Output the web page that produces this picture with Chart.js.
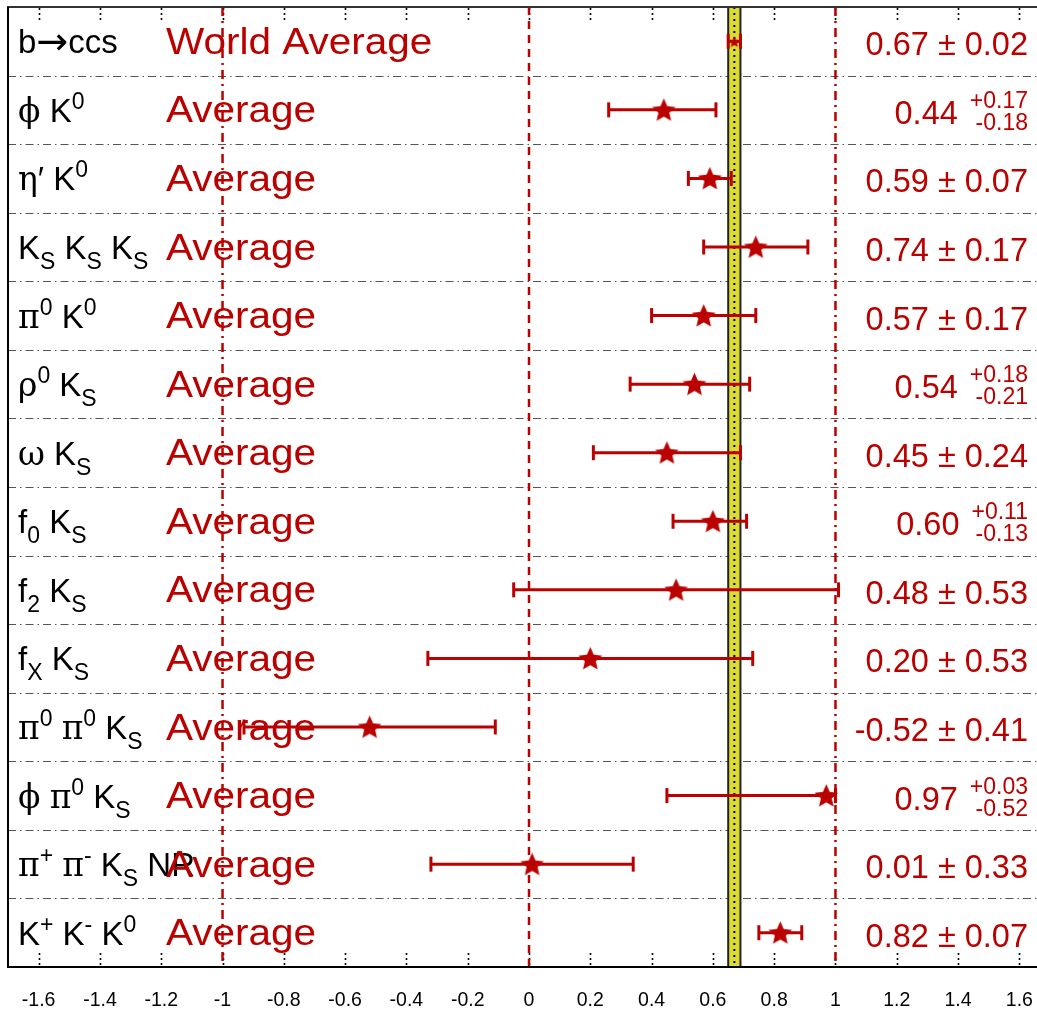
<!DOCTYPE html>
<html><head><meta charset="utf-8">
<script src="https://cdn.jsdelivr.net/npm/chart.js@4/dist/chart.umd.min.js"></script>
<style>
html,body{margin:0;padding:0;background:#fff;overflow:hidden;width:1037px;height:1009px}
#wrap{position:absolute;left:0;top:0;width:1052px;height:1009px}
</style>
</head><body><div id="wrap"><canvas id="c" width="1052" height="1009"></canvas></div>
<script>
// ---- data ----
const categories = ['b→ccs','ϕ K^{0}','η′ K^{0}','K_{S} K_{S} K_{S}','π^{0} K^{0}','ρ^{0} K_{S}','ω K_{S}','f_{0} K_{S}','f_{2} K_{S}','f_{X} K_{S}','π^{0} π^{0} K_{S}','ϕ π^{0} K_{S}','π^{+} π^{-} K_{S} NR','K^{+} K^{-} K^{0}'];
const averageLabels = ['World Average','Average','Average','Average','Average','Average','Average','Average','Average','Average','Average','Average','Average','Average'];
const values   = [0.67, 0.44, 0.59, 0.74, 0.57, 0.54, 0.45, 0.60, 0.48, 0.20, -0.52, 0.97, 0.01, 0.82];
const errPlus  = [0.02, 0.17, 0.07, 0.17, 0.17, 0.18, 0.24, 0.11, 0.53, 0.53, 0.41, 0.03, 0.33, 0.07];
const errMinus = [0.02, 0.18, 0.07, 0.17, 0.17, 0.21, 0.24, 0.13, 0.53, 0.53, 0.41, 0.52, 0.33, 0.07];
const xTicks = [-1.6,-1.4,-1.2,-1,-0.8,-0.6,-0.4,-0.2,0,0.2,0.4,0.6,0.8,1,1.2,1.4,1.6];
const refLines = [-1, 0, 1];
const worldAverage = 0.67;
const worldError = 0.02;

// ---- styles ----
const RED = '#bb0000';
const SANS = '"Liberation Sans", Arial, "DejaVu Sans", sans-serif';
const SERIF = '"DejaVu Serif", "Liberation Serif", serif';
const GREEK = /[α-ωΑ-Ωϕ]/;

function makeStar(r, color) {
  const c = document.createElement('canvas');
  const s = Math.ceil(2 * r + 2);
  c.width = s; c.height = s;
  const g = c.getContext('2d');
  g.fillStyle = color;
  g.beginPath();
  for (let k = 0; k < 10; k++) {
    const rad = (k % 2 === 0) ? r : r * 0.46;
    const a = -Math.PI / 2 + k * Math.PI / 5;
    const px = s / 2 + rad * Math.cos(a), py = s / 2 + 1 + rad * Math.sin(a);
    if (k === 0) g.moveTo(px, py); else g.lineTo(px, py);
  }
  g.closePath(); g.fill();
  return c;
}
const bigStar = makeStar(12.5, RED);
const smallStar = makeStar(6, RED);

function parseMarkup(str) {
  const segs = [];
  let i = 0, buf = '';
  while (i < str.length) {
    const ch = str[i];
    if ((ch === '^' || ch === '_') && str[i + 1] === '{') {
      if (buf) { segs.push({t: buf, m: 'n'}); buf = ''; }
      const end = str.indexOf('}', i);
      segs.push({t: str.slice(i + 2, end), m: ch === '^' ? 'sup' : 'sub'});
      i = end + 1;
    } else { buf += ch; i++; }
  }
  if (buf) segs.push({t: buf, m: 'n'});
  return segs;
}

function drawRich(ctx, str, x, baseline, size, subSize) {
  const segs = parseMarkup(str);
  for (const s of segs) {
    let sz = size, dy = 0;
    if (s.m === 'sup') { sz = subSize; dy = -13; }
    if (s.m === 'sub') { sz = subSize; dy = 10; }
    for (const ch of s.t) {
      if (ch === '→') {
        ctx.font = Math.round(sz * 1.15) + 'px "DejaVu Sans", sans-serif';
        ctx.fillText(ch, x, baseline + dy + 1);
        x += ctx.measureText(ch).width;
        continue;
      }
      ctx.font = sz + 'px ' + (GREEK.test(ch) ? SERIF : SANS);
      ctx.fillText(ch, x, baseline + dy);
      x += ctx.measureText(ch).width;
    }
  }
  return x;
}

function hline(ctx, x1, x2, y, dash, color, w) {
  ctx.save(); ctx.beginPath(); ctx.setLineDash(dash); ctx.strokeStyle = color; ctx.lineWidth = w;
  ctx.moveTo(x1, y); ctx.lineTo(x2, y); ctx.stroke(); ctx.restore();
}
function vline(ctx, x, y1, y2, dash, color, w) {
  ctx.save(); ctx.beginPath(); ctx.setLineDash(dash); ctx.strokeStyle = color; ctx.lineWidth = w;
  ctx.moveTo(x, y1); ctx.lineTo(x, y2); ctx.stroke(); ctx.restore();
}

const hfagPlugin = {
  id: 'hfag',
  beforeDatasetsDraw(chart) {
    const ctx = chart.ctx;
    const {left, right, top, bottom} = chart.chartArea;
    const xs = chart.scales.x, ys = chart.scales.y;
    // row separators
    for (let k = 1; k < categories.length; k++) {
      const y = Math.round(ys.getPixelForValue(k)) + 0.5;
      hline(ctx, left, right, y, [8, 4, 1.5, 4], '#555', 1);
    }
    // tick marks (dotted)
    for (const v of xTicks) {
      const px = Math.round(xs.getPixelForValue(v)) + 0.5;
      vline(ctx, px, top + 1, top + 14, [2, 3], '#000', 1.6);
      vline(ctx, px, bottom - 14, bottom, [2, 3], '#000', 1.6);
    }
    // reference red lines
    for (const v of refLines) {
      const px = xs.getPixelForValue(v);
      const dash = v === 0 ? [8, 6] : [9, 5, 2, 5];
      vline(ctx, px, top, bottom, dash, RED, 2.5);
    }
    // world average band
    const bx1 = xs.getPixelForValue(worldAverage - worldError);
    const bx2 = xs.getPixelForValue(worldAverage + worldError);
    ctx.save();
    ctx.fillStyle = '#dcdc30';
    ctx.fillRect(bx1, top, bx2 - bx1, bottom - top);
    ctx.restore();
    vline(ctx, bx1, top, bottom, [], '#222', 2);
    vline(ctx, bx2, top, bottom, [], '#222', 2);
    vline(ctx, xs.getPixelForValue(worldAverage), top, bottom, [2, 4], '#000', 2);
    // frame
    hline(ctx, left - 1, right, top, [], '#333', 2);
    hline(ctx, left - 1, right, bottom, [], '#000', 2);
    vline(ctx, left, top, bottom, [], '#000', 2);
    // error bars
    for (let i = 0; i < values.length; i++) {
      const y = ys.getPixelForValue(i + 0.5);
      const x1 = xs.getPixelForValue(values[i] - errMinus[i]);
      const x2 = xs.getPixelForValue(values[i] + errPlus[i]);
      hline(ctx, x1, x2, y, [], RED, 3);
      vline(ctx, x1, y - 7.5, y + 7.5, [], RED, 3);
      vline(ctx, x2, y - 7.5, y + 7.5, [], RED, 3);
    }
  },
  afterDatasetsDraw(chart) {
    const ctx = chart.ctx;
    const ys = chart.scales.y;
    ctx.save();
    ctx.textBaseline = 'alphabetic';
    const textRight = 1028;
    for (let i = 0; i < categories.length; i++) {
      const yc = ys.getPixelForValue(i + 0.5);
      // left label
      ctx.fillStyle = '#000'; ctx.textAlign = 'left';
      drawRich(ctx, categories[i], 18, yc + 12, 33, 23);
      // average label (slightly wide lettering as in the original)
      ctx.fillStyle = RED;
      ctx.font = '37.5px ' + SANS;
      ctx.save();
      ctx.translate(166, yc + 12.5);
      ctx.scale(1.08, 1);
      ctx.fillText(averageLabels[i], 0, 0);
      ctx.restore();
      // value text
      ctx.textAlign = 'right';
      if (errPlus[i] === errMinus[i]) {
        ctx.font = '32.5px ' + SANS;
        ctx.fillText(values[i].toFixed(2) + ' ± ' + errPlus[i].toFixed(2), textRight, yc + 14);
      } else {
        ctx.font = '23px ' + SANS;
        const sp = '+' + errPlus[i].toFixed(2), sm = '-' + errMinus[i].toFixed(2);
        const w = Math.max(ctx.measureText(sp).width, ctx.measureText(sm).width);
        ctx.fillText(sp, textRight, yc - 2);
        ctx.fillText(sm, textRight, yc + 20);
        ctx.font = '32.5px ' + SANS;
        ctx.fillText(values[i].toFixed(2), textRight - w - 12, yc + 14);
      }
    }
    ctx.restore();
  }
};

new Chart(document.getElementById('c'), {
  type: 'scatter',
  data: {
    datasets: [{
      data: values.map((v, i) => ({x: v, y: i + 0.5})),
      pointStyle: values.map((v, i) => i === 0 ? smallStar : bigStar),
      backgroundColor: RED,
      borderColor: RED,
      pointRadius: 12,
      clip: false
    }]
  },
  options: {
    responsive: false,
    animation: false,
    events: [],
    layout: {autoPadding: false, padding: {top: 7, left: 8, right: 2, bottom: 0}},
    plugins: {legend: {display: false}, tooltip: {enabled: false}},
    scales: {
      x: {
        type: 'linear', min: -1.7, max: 1.7,
        afterBuildTicks: s => { s.ticks = xTicks.map(v => ({value: v})); },
        afterFit: s => { s.height = 42; s.paddingLeft = 0; s.paddingRight = 0; },
        grid: {display: false, drawTicks: false},
        border: {display: false},
        ticks: {
          color: '#000', padding: 22, autoSkip: false, maxRotation: 0,
          font: {family: SANS, size: 19.5},
          callback: v => String(Math.round(v * 10) / 10)
        }
      },
      y: {type: 'linear', min: 0, max: 14, reverse: true, display: false}
    }
  },
  plugins: [hfagPlugin]
});
</script>
</body></html>
